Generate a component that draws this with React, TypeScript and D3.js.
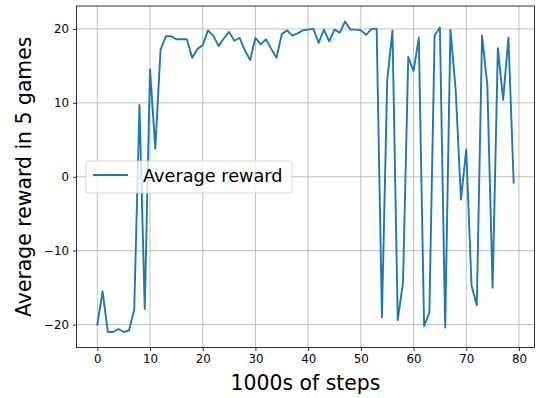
import React, { useRef, useEffect } from "react";
import * as d3 from "d3";

// average reward over 5 games, one point every 1000 steps
const steps = d3.range(0, 80);
const rewards = [
  -20, -15.5, -21.0, -21.0, -20.6, -21.0, -20.8, -18.0, 9.7, -17.9,
  14.5, 3.8, 17.2, 19.0, 19.0, 18.6, 18.6, 18.6, 16.1, 17.3,
  17.8, 19.8, 19.1, 17.7, 18.7, 19.6, 18.4, 18.8, 17.1, 15.8,
  18.8, 17.9, 18.6, 17.3, 16.1, 19.3, 19.8, 19.1, 19.4, 19.8,
  19.9, 20.0, 18.1, 19.9, 18.3, 19.9, 19.5, 21.0, 19.9, 19.9,
  19.8, 19.2, 20.0, 20.0, -19.0, 13.0, 19.8, -19.4, -14.3, 16.2,
  14.3, 18.8, -20.2, -18.4, 19.1, 20.2, -20.4, 19.9, 11.7, -3.1,
  3.7, -14.7, -17.4, 19.1, 12.4, -15.0, 17.4, 10.4, 18.8, -0.8,
];
const xTicks = [0, 10, 20, 30, 40, 50, 60, 70, 80];
const yTicks = [-20, -10, 0, 10, 20];
const seriesName = "Average reward";

const W = 536;
const H = 398;
const FONT = "'DejaVu Sans', sans-serif";

const App = () => {
  const svgRef = useRef<SVGSVGElement>(null);

  useEffect(() => {
    const svg = d3.select(svgRef.current);
    svg.selectAll("*").remove();

    const left = 76.5;
    const right = 534.5;
    const top = 6;
    const bottom = 347.5;

    // matplotlib-like 5% margins
    const [x0, x1] = d3.extent(steps) as [number, number];
    const [y0, y1] = d3.extent(rewards) as [number, number];
    const xm = (x1 - x0) * 0.05;
    const ym = (y1 - y0) * 0.05;

    const x = d3.scaleLinear().domain([x0 - xm, x1 + xm]).range([left, right]);
    const y = d3.scaleLinear().domain([y0 - ym, y1 + ym]).range([bottom, top]);

    // grid
    const grid = svg.append("g").attr("stroke", "#b0b0b0").attr("stroke-width", 0.8);
    xTicks.forEach((t) => {
      grid.append("line").attr("x1", x(t)).attr("x2", x(t)).attr("y1", top).attr("y2", bottom);
    });
    yTicks.forEach((t) => {
      grid.append("line").attr("x1", left).attr("x2", right).attr("y1", y(t)).attr("y2", y(t));
    });

    // line
    const line = d3
      .line<number>()
      .x((_, i) => x(steps[i]))
      .y((d) => y(d));
    svg
      .append("path")
      .datum(rewards)
      .attr("d", line)
      .attr("fill", "none")
      .attr("stroke", "#1f77b4")
      .attr("stroke-width", 1.9)
      .attr("stroke-linejoin", "round")
      .attr("stroke-linecap", "square");

    // axes
    const xAxis = svg
      .append("g")
      .attr("transform", `translate(0,${bottom})`)
      .call(d3.axisBottom(x).tickValues(xTicks).tickSizeOuter(0).tickSize(3.5).tickPadding(4));
    const yAxis = svg
      .append("g")
      .attr("transform", `translate(${left},0)`)
      .call(d3.axisLeft(y).tickValues(yTicks).tickSizeOuter(0).tickSize(3.5).tickPadding(4));
    [xAxis, yAxis].forEach((a) => {
      a.select(".domain").remove();
      a.selectAll("line").attr("stroke", "#000").attr("stroke-width", 0.8);
      a.selectAll("text")
        .attr("font-family", FONT)
        .attr("font-size", 11.8)
        .attr("fill", "#000");
    });

    // frame
    svg
      .append("rect")
      .attr("x", left)
      .attr("y", top)
      .attr("width", right - left)
      .attr("height", bottom - top)
      .attr("fill", "none")
      .attr("stroke", "#000")
      .attr("stroke-width", 0.8);

    // axis labels
    svg
      .append("text")
      .attr("x", (left + right) / 2)
      .attr("y", 390)
      .attr("text-anchor", "middle")
      .attr("font-family", FONT)
      .attr("font-size", 20.4)
      .text("1000s of steps");
    svg
      .append("text")
      .attr("transform", `translate(31,${(top + bottom) / 2}) rotate(-90)`)
      .attr("text-anchor", "middle")
      .attr("font-family", FONT)
      .attr("font-size", 20.4)
      .text("Average reward in 5 games");

    // legend
    const lg = svg.append("g");
    lg.append("rect")
      .attr("x", 86)
      .attr("y", 161)
      .attr("width", 206)
      .attr("height", 32)
      .attr("rx", 3)
      .attr("fill", "#fff")
      .attr("fill-opacity", 0.8)
      .attr("stroke", "#cccccc")
      .attr("stroke-width", 0.8);
    lg.append("line")
      .attr("x1", 93)
      .attr("x2", 128)
      .attr("y1", 175)
      .attr("y2", 175)
      .attr("stroke", "#1f77b4")
      .attr("stroke-width", 1.9);
    lg.append("text")
      .attr("x", 143)
      .attr("y", 181.5)
      .attr("font-family", FONT)
      .attr("font-size", 17.7)
      .text(seriesName);
  }, []);

  return (
    <svg
      ref={svgRef}
      width={W}
      height={H}
      style={{ position: "absolute", left: 0, top: 0, background: "#fff" }}
    />
  );
};

export default App;
